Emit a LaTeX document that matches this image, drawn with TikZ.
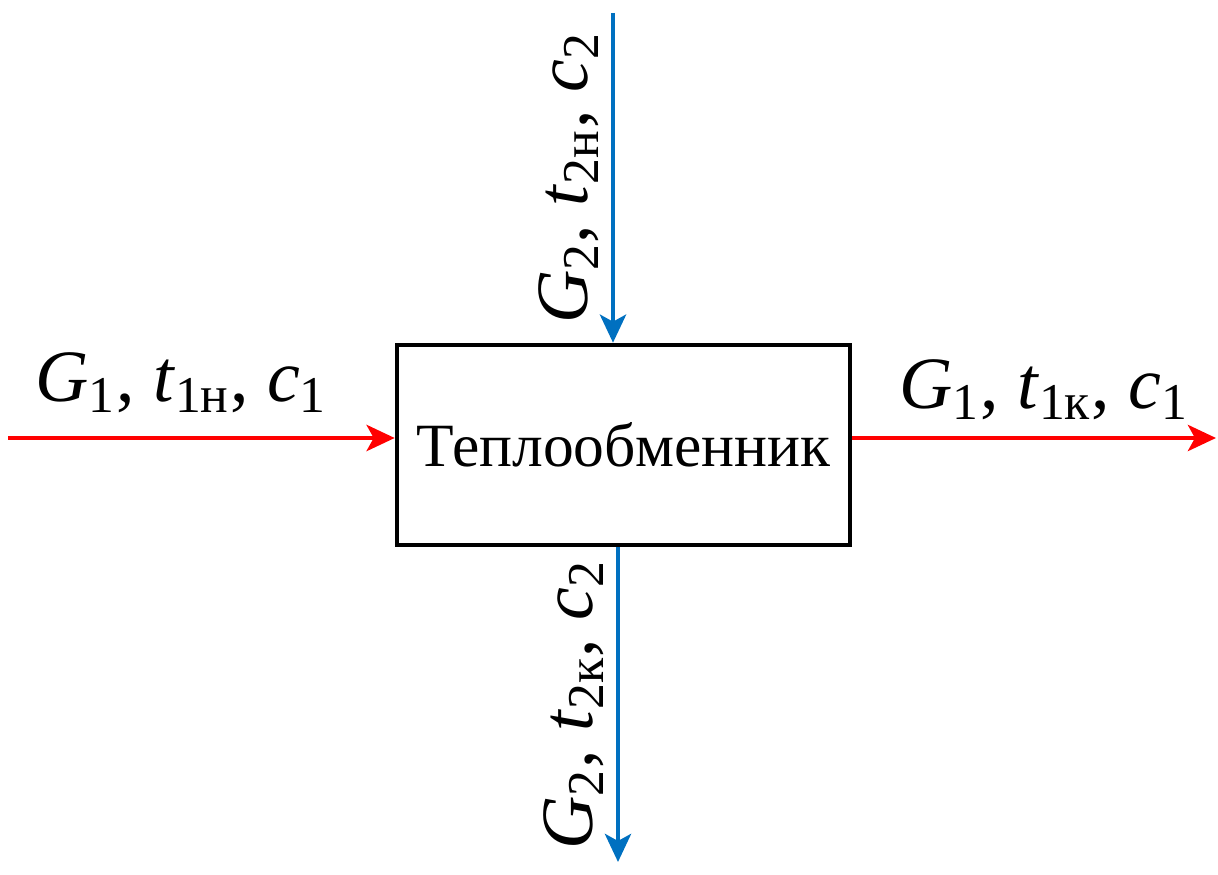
\documentclass[tikz,border=0pt]{standalone}
\usepackage{fontspec}
\setmainfont{Liberation Serif}
\usepackage{tikz}
\usetikzlibrary{arrows.meta, positioning, calc}
\usepackage{xcolor}
\definecolor{hotred}{RGB}{255,0,0}
\definecolor{coldblue}{RGB}{0,112,192}
\newcommand{\flowlab}[3]{\textit{G}\textsubscript{#1}, \textit{t}\textsubscript{#2}, \textit{c}\textsubscript{#3}}

\begin{document}
\begin{tikzpicture}[>={Stealth[length=2.8mm, width=2.6mm, inset=0.7mm]},
  hot/.style={->, hotred, line width=1.4pt},
  cold/.style={->, coldblue, line width=1.4pt},
  lab/.style={font=\fontsize{21}{24}\selectfont, text=black}]
\useasboundingbox (0,0) rectangle (12.18,8.74);
\node[draw, line width=1.3pt, minimum width=4.53cm, minimum height=2cm,
  font=\fontsize{17.5}{20}\selectfont] (hex) at (6.235,4.29) {Теплообменник};
\coordinate (inL) at (0.08,4.36);
\coordinate (outR) at (12.16,4.36);
\coordinate (inT) at (6.13,8.61);
\coordinate (outB) at (6.18,0.12);
\draw[hot] (inL) -- (inL -| hex.west) node[midway, above=3pt, xshift=-2mm, lab] {\flowlab{1}{1н}{1}};
\draw[hot] (outR -| hex.east) -- (outR) node[midway, above=1pt, xshift=1mm, lab] {\flowlab{1}{1к}{1}};
\draw[cold] (inT) -- (inT |- hex.north) node[midway, rotate=90, anchor=south, lab] {\flowlab{2}{2н}{2}};
\draw[cold] (outB |- hex.south) -- (outB) node[midway, rotate=90, anchor=south, lab] {\flowlab{2}{2к}{2}};
\end{tikzpicture}
\end{document}
